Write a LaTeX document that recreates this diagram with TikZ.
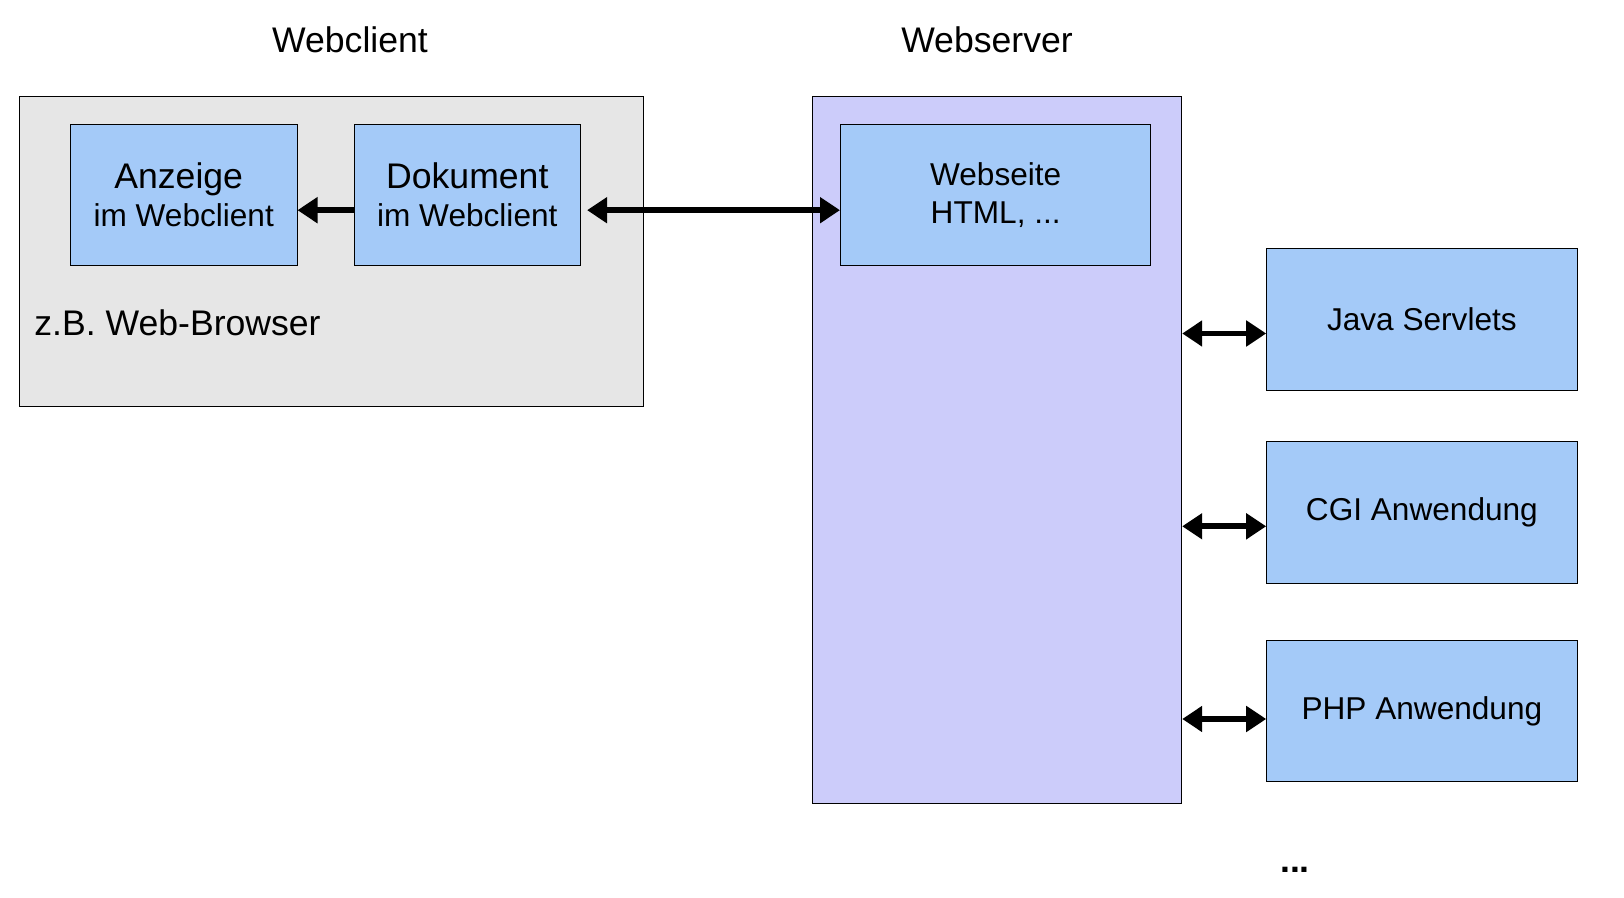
\documentclass[tikz,border=0pt]{standalone}
\usepackage{fontspec}
\setmainfont{Liberation Sans}
\usetikzlibrary{arrows.meta}
\definecolor{boxblue}{RGB}{164,202,248}
\definecolor{serverblue}{RGB}{204,204,250}
\definecolor{clientgray}{RGB}{230,230,230}
\newcommand{\bigtext}{\fontsize{17.8pt}{19.5pt}\selectfont}
\newcommand{\smalltext}{\fontsize{15.8pt}{19pt}\selectfont}
\begin{document}
\begin{tikzpicture}[
  x=0.5pt, y=-0.5pt,
  block/.style={rectangle, draw, fill=boxblue, line width=0.5pt, minimum width=113.3pt, minimum height=70.8pt, inner sep=0pt, align=center, font=\smalltext},
  wide/.style={block, minimum width=155.2pt},
  frame/.style={rectangle, draw, line width=0.5pt, inner sep=0pt},
  link/.style={line width=2.85pt, -{Triangle[length=10pt,width=12.5pt]}},
  dlink/.style={line width=2.85pt, {Triangle[length=10pt,width=12.5pt]}-{Triangle[length=10pt,width=12.5pt]}}
]
\useasboundingbox (0,0) rectangle (1624,898);

\node[frame, fill=clientgray, minimum width=311.9pt, minimum height=155.2pt] (client) at (331.2,251.5) {};
\node[frame, fill=serverblue, minimum width=184.6pt, minimum height=353.6pt] (server) at (997.1,449.9) {};

\node[font=\bigtext] (clienttitle) at (350,39.3) {Webclient};
\node[font=\bigtext] (servertitle) at (987,39.3) {Webserver};

\node[block] (anzeige) at (183.7,195.2) {{\bigtext Anzeige\kern5pt}\\im Webclient};
\node[block, right of=anzeige, node distance=141.8pt] (dokument) {{\bigtext Dokument}\\im Webclient};
\node[wide, right of=dokument, node distance=264.2pt] (webseite) {Webseite\\HTML, ...};
\node[font=\bigtext, anchor=base west, inner sep=0pt] (browser) at (34,336) {z.B. Web-Browser};

\node[wide] (servlets) at (1421.9,319.5) {Java Servlets};
\node[wide, below of=servlets, node distance=96.4pt] (cgi) {CGI Anwendung};
\node[wide, below of=cgi, node distance=99.35pt] (php) {PHP Anwendung};
\node[font=\bigtext\bfseries, anchor=base] (more) at (1295,872) {...};

\draw[link] ([yshift=-7.5pt]dokument.west) -- ([yshift=-7.5pt]anzeige.east);
\draw[dlink] ([xshift=3pt,yshift=-7.5pt]dokument.east) -- ([yshift=-7.5pt]webseite.west);
\draw[dlink] ([yshift=-7pt]servlets.west -| server.east) -- ([yshift=-7pt]servlets.west);
\draw[dlink] ([yshift=-7pt]cgi.west -| server.east) -- ([yshift=-7pt]cgi.west);
\draw[dlink] ([yshift=-4pt]php.west -| server.east) -- ([yshift=-4pt]php.west);
\end{tikzpicture}
\end{document}
